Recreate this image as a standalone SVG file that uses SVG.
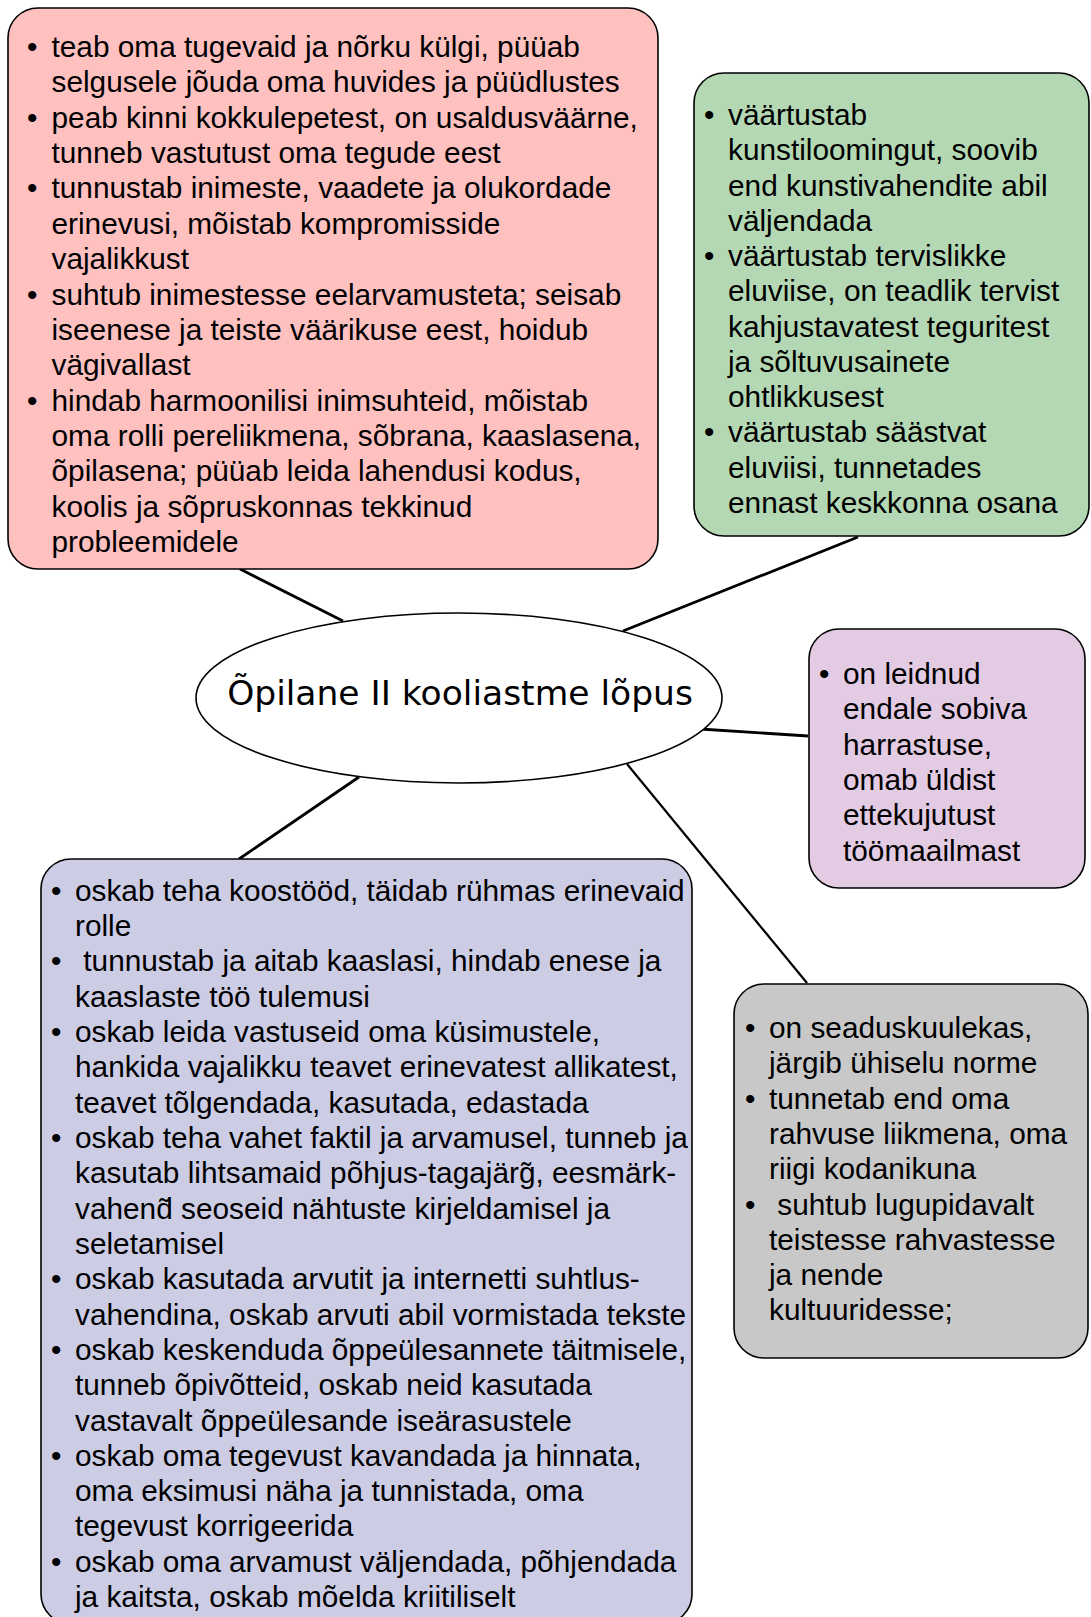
<svg xmlns="http://www.w3.org/2000/svg" width="1091" height="1617" viewBox="0 0 1091 1617">
<style>
.box{stroke:#000;stroke-width:1.6}
.t{font-family:"Liberation Sans",Arial,sans-serif;font-size:29.8px;fill:#000}
.c{font-family:"DejaVu Sans",Verdana,sans-serif;font-size:34.5px;fill:#000}
.ln{stroke:#000;stroke-width:2.8;fill:none}
</style>
<rect width="1091" height="1617" fill="#fff"/>
<g id="connectors">
<line class="ln" x1="240" y1="569" x2="343" y2="621"/>
<line class="ln" x1="858" y1="537" x2="623" y2="631"/>
<line class="ln" x1="700" y1="729" x2="808" y2="736"/>
<line class="ln" x1="359" y1="777" x2="239" y2="859"/>
<line class="ln" x1="627" y1="764" x2="807" y2="983" style="stroke-width:2.2"/>
</g>
<g id="center">
<ellipse cx="459" cy="698" rx="263" ry="85" fill="#fff" stroke="#000" stroke-width="1.6"/>
<text class="c" x="460" y="705" text-anchor="middle">Õpilane II kooliastme lõpus</text>
</g>
<g id="red">
<rect class="box" x="8" y="8" width="650" height="561" rx="30" fill="#FFC0C0"/>
<text class="t">
<tspan x="27" y="57">•</tspan><tspan x="51.5" y="57">teab oma tugevaid ja nõrku külgi, püüab</tspan>
<tspan x="51.5" y="92.4">selgusele jõuda oma huvides ja püüdlustes</tspan>
<tspan x="27" y="127.7">•</tspan><tspan x="51.5" y="127.7">peab kinni kokkulepetest, on usaldusväärne,</tspan>
<tspan x="51.5" y="163.1">tunneb vastutust oma tegude eest</tspan>
<tspan x="27" y="198.4">•</tspan><tspan x="51.5" y="198.4">tunnustab inimeste, vaadete ja olukordade</tspan>
<tspan x="51.5" y="233.8">erinevusi, mõistab kompromisside</tspan>
<tspan x="51.5" y="269.2">vajalikkust</tspan>
<tspan x="27" y="304.5">•</tspan><tspan x="51.5" y="304.5">suhtub inimestesse eelarvamusteta; seisab</tspan>
<tspan x="51.5" y="339.9">iseenese ja teiste väärikuse eest, hoidub</tspan>
<tspan x="51.5" y="375.2">vägivallast</tspan>
<tspan x="27" y="410.6">•</tspan><tspan x="51.5" y="410.6">hindab harmoonilisi inimsuhteid, mõistab</tspan>
<tspan x="51.5" y="446">oma rolli pereliikmena, sõbrana, kaaslasena,</tspan>
<tspan x="51.5" y="481.3">õpilasena; püüab leida lahendusi kodus,</tspan>
<tspan x="51.5" y="516.7">koolis ja sõpruskonnas tekkinud</tspan>
<tspan x="51.5" y="552">probleemidele</tspan>
</text>
</g>
<g id="green">
<rect class="box" x="694" y="73" width="395" height="463" rx="30" fill="#B3D8B3"/>
<text class="t">
<tspan x="704" y="125">•</tspan><tspan x="728" y="125">väärtustab</tspan>
<tspan x="728" y="160.25">kunstiloomingut, soovib</tspan>
<tspan x="728" y="195.5">end kunstivahendite abil</tspan>
<tspan x="728" y="230.75">väljendada</tspan>
<tspan x="704" y="266">•</tspan><tspan x="728" y="266">väärtustab tervislikke</tspan>
<tspan x="728" y="301.25">eluviise, on teadlik tervist</tspan>
<tspan x="728" y="336.5">kahjustavatest teguritest</tspan>
<tspan x="728" y="371.75">ja sõltuvusainete</tspan>
<tspan x="728" y="407">ohtlikkusest</tspan>
<tspan x="704" y="442.25">•</tspan><tspan x="728" y="442.25">väärtustab säästvat</tspan>
<tspan x="728" y="477.5">eluviisi, tunnetades</tspan>
<tspan x="728" y="512.75">ennast keskkonna osana</tspan>
</text>
</g>
<g id="purple">
<rect class="box" x="809" y="629" width="276" height="259" rx="30" fill="#E3CBE3"/>
<text class="t">
<tspan x="819" y="684">•</tspan><tspan x="843" y="684">on leidnud</tspan>
<tspan x="843" y="719.3">endale sobiva</tspan>
<tspan x="843" y="754.6">harrastuse,</tspan>
<tspan x="843" y="789.9">omab üldist</tspan>
<tspan x="843" y="825.2">ettekujutust</tspan>
<tspan x="843" y="860.5">töömaailmast</tspan>
</text>
</g>
<g id="gray">
<rect class="box" x="734" y="984" width="354" height="374" rx="30" fill="#C8C8C8"/>
<text class="t">
<tspan x="745" y="1038">•</tspan><tspan x="769" y="1038">on seaduskuulekas,</tspan>
<tspan x="769" y="1073.3">järgib ühiselu norme</tspan>
<tspan x="745" y="1108.6">•</tspan><tspan x="769" y="1108.6">tunnetab end oma</tspan>
<tspan x="769" y="1143.9">rahvuse liikmena, oma</tspan>
<tspan x="769" y="1179.2">riigi kodanikuna</tspan>
<tspan x="745" y="1214.5">•</tspan><tspan x="777.3" y="1214.5">suhtub lugupidavalt</tspan>
<tspan x="769" y="1249.8">teistesse rahvastesse</tspan>
<tspan x="769" y="1285.1">ja nende</tspan>
<tspan x="769" y="1320.4">kultuuridesse;</tspan>
</text>
</g>
<g id="blue">
<rect class="box" x="41" y="859" width="651" height="765" rx="30" fill="#CCCCE5"/>
<text class="t">
<tspan x="51" y="900.5">•</tspan><tspan x="75" y="900.5">oskab teha koostööd, täidab rühmas erinevaid</tspan>
<tspan x="75" y="935.8">rolle</tspan>
<tspan x="51" y="971.2">•</tspan><tspan x="83.3" y="971.2">tunnustab ja aitab kaaslasi, hindab enese ja</tspan>
<tspan x="75" y="1006.5">kaaslaste töö tulemusi</tspan>
<tspan x="51" y="1041.8">•</tspan><tspan x="75" y="1041.8">oskab leida vastuseid oma küsimustele,</tspan>
<tspan x="75" y="1077.2">hankida vajalikku teavet erinevatest allikatest,</tspan>
<tspan x="75" y="1112.5">teavet tõlgendada, kasutada, edastada</tspan>
<tspan x="51" y="1147.8">•</tspan><tspan x="75" y="1147.8">oskab teha vahet faktil ja arvamusel, tunneb ja</tspan>
<tspan x="75" y="1183.1">kasutab lihtsamaid põhjus-tagajärg̃, eesmärk-</tspan>
<tspan x="75" y="1218.5">vahend̃ seoseid nähtuste kirjeldamisel ja</tspan>
<tspan x="75" y="1253.8">seletamisel</tspan>
<tspan x="51" y="1289.1">•</tspan><tspan x="75" y="1289.1">oskab kasutada arvutit ja internetti suhtlus-</tspan>
<tspan x="75" y="1324.5">vahendina, oskab arvuti abil vormistada tekste</tspan>
<tspan x="51" y="1359.8">•</tspan><tspan x="75" y="1359.8">oskab keskenduda õppeülesannete täitmisele,</tspan>
<tspan x="75" y="1395.1">tunneb õpivõtteid, oskab neid kasutada</tspan>
<tspan x="75" y="1430.5">vastavalt õppeülesande iseärasustele</tspan>
<tspan x="51" y="1465.8">•</tspan><tspan x="75" y="1465.8">oskab oma tegevust kavandada ja hinnata,</tspan>
<tspan x="75" y="1501.1">oma eksimusi näha ja tunnistada, oma</tspan>
<tspan x="75" y="1536.4">tegevust korrigeerida</tspan>
<tspan x="51" y="1571.8">•</tspan><tspan x="75" y="1571.8">oskab oma arvamust väljendada, põhjendada</tspan>
<tspan x="75" y="1607.1">ja kaitsta, oskab mõelda kriitiliselt</tspan>
</text>
</g>
</svg>
